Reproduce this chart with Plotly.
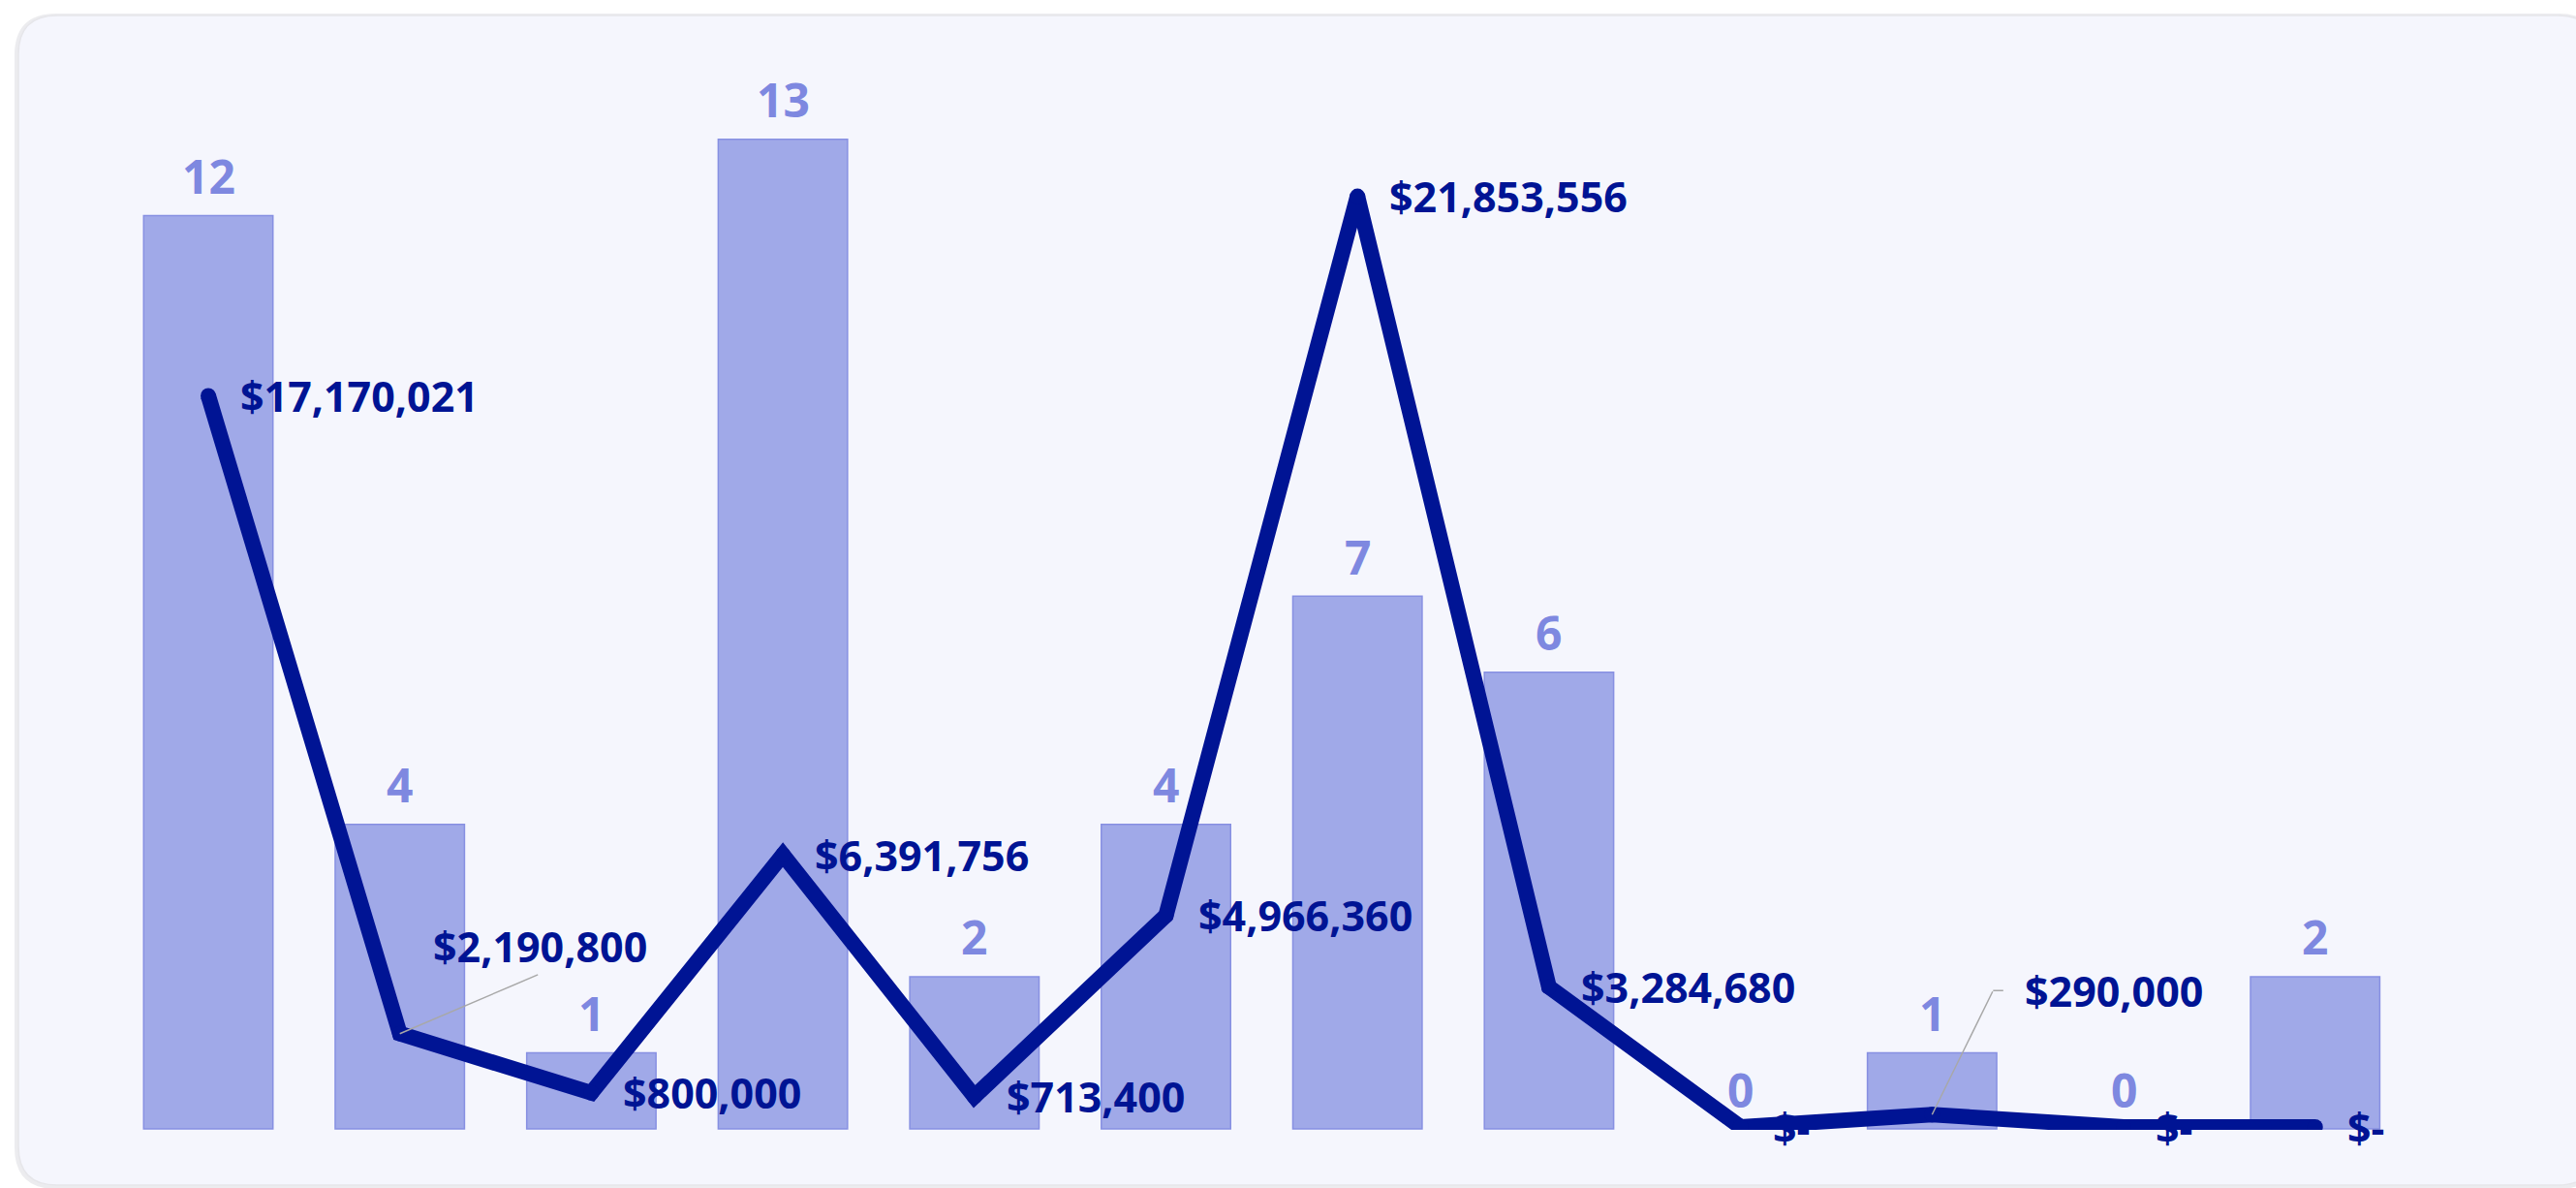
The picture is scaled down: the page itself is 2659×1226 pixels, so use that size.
import plotly.graph_objects as go

# ---------------- data ----------------
categories = ["C1", "C2", "C3", "C4", "C5", "C6", "C7", "C8", "C9", "C10", "C11", "C12"]
counts = [12, 4, 1, 13, 2, 4, 7, 6, 0, 1, 0, 2]
amounts = [17170021, 2190800, 800000, 6391756, 713400, 4966360, 21853556, 3284680, 0, 290000, 0, 0]

W, H = 2659, 1226
NAVY = "#001494"
BAR_FILL = "#a0a9e8"
BAR_LINE = "#8790e2"
COUNT_COLOR = "#7e88e0"
CARD_BG = "#f5f6fd"
FONT = "Open Sans"
LW = 16


def fmt_money(v):
    return "$-" if v == 0 else "${:,}".format(v)


fig = go.Figure()

fig.add_trace(go.Bar(
    x=categories, y=counts, width=0.675,
    marker=dict(color=BAR_FILL,
                line=dict(color=BAR_LINE, width=[1.5 if n else 0 for n in counts])),
    hoverinfo="skip",
))

fig.add_trace(go.Scatter(
    x=categories, y=amounts, yaxis="y2", mode="lines+markers",
    line=dict(color=NAVY, width=LW),
    marker=dict(color=NAVY, size=LW, line=dict(width=0)),
    hoverinfo="skip",
))

annotations = []
# count labels above bars
for c, n in zip(categories, counts):
    annotations.append(dict(
        x=c, y=n, xref="x", yref="y", text=str(n), showarrow=False,
        xanchor="center", yanchor="middle", yshift=41,
        font=dict(family=FONT, size=48, color=COUNT_COLOR, weight=700),
    ))

# money labels; some are moved away from their point with a leader line
# offsets: (label xshift, label yshift, leader segments [(xshift, yshift, ax, ay)])
moved = {
    1: (32, 90, [(0, 0, 143, -61)]),
    9: (94, 128, [(0, 0, 63, -128), (63, 128, 11, 0)]),
}
for i, (c, v) in enumerate(zip(categories, amounts)):
    txt = fmt_money(v)
    f = dict(family=FONT, size=43, color=NAVY, weight=700)
    if i in moved:
        xs, ys, segs = moved[i]
        for sx, sy, ax, ay in segs:
            annotations.append(dict(
                x=c, y=v, xref="x", yref="y2", text=" ", showarrow=True,
                arrowhead=0, arrowwidth=1.5, arrowcolor="#a8a8a8",
                ax=ax, ay=ay, standoff=0, xshift=sx, yshift=sy,
                font=dict(size=1), borderpad=0,
            ))
        annotations.append(dict(
            x=c, y=v, xref="x", yref="y2", text=txt, showarrow=False,
            xanchor="left", yanchor="middle", xshift=xs, yshift=ys, font=f,
        ))
    else:
        annotations.append(dict(
            x=c, y=v, xref="x", yref="y2", text=txt, showarrow=False,
            xanchor="left", yanchor="middle", xshift=31, font=f,
        ))


# card background shapes (pixel -> paper); plot area is 0..1166 px tall
PLOT_H = 1166
B = H - PLOT_H


def px(x):
    return x / W


def py(y):
    return (PLOT_H - y) / PLOT_H


def rounded_path(x0, y0, x1, y1, r):
    pts = [
        f"M {px(x0 + r)},{py(y0)}",
        f"L {px(x1 - r)},{py(y0)}",
        f"Q {px(x1)},{py(y0)} {px(x1)},{py(y0 + r)}",
        f"L {px(x1)},{py(y1 - r)}",
        f"Q {px(x1)},{py(y1)} {px(x1 - r)},{py(y1)}",
        f"L {px(x0 + r)},{py(y1)}",
        f"Q {px(x0)},{py(y1)} {px(x0)},{py(y1 - r)}",
        f"L {px(x0)},{py(y0 + r)}",
        f"Q {px(x0)},{py(y0)} {px(x0 + r)},{py(y0)}",
        "Z",
    ]
    return " ".join(pts)


shapes = [
    dict(type="path", xref="paper", yref="paper", layer="below",
         path=rounded_path(15, 14, 2684, 1227, 43),
         fillcolor="#ececef", line=dict(width=0)),
    dict(type="path", xref="paper", yref="paper", layer="below",
         path=rounded_path(19, 16, 2680, 1223, 40),
         fillcolor=CARD_BG, line=dict(color="#e6e6ea", width=1.5)),
]

fig.update_layout(
    width=W, height=H,
    margin=dict(l=0, r=0, t=0, b=B),
    paper_bgcolor="white",
    plot_bgcolor="rgba(0,0,0,0)",
    showlegend=False,
    hovermode=False,
    xaxis=dict(type="category", range=[-1.0875, 12.362], visible=False,
               showgrid=False, zeroline=False, fixedrange=True),
    yaxis=dict(range=[-0.0127, 14.831], visible=False, showgrid=False,
               zeroline=False, fixedrange=True),
    yaxis2=dict(range=[-0.0683e6, 26.462e6], overlaying="y", visible=False,
                showgrid=False, zeroline=False, fixedrange=True),
    annotations=annotations,
    shapes=shapes,
)

fig.write_html("out.html", config={"displayModeBar": False},
               post_script="document.body.style.margin='0';document.body.style.overflow='hidden';")
